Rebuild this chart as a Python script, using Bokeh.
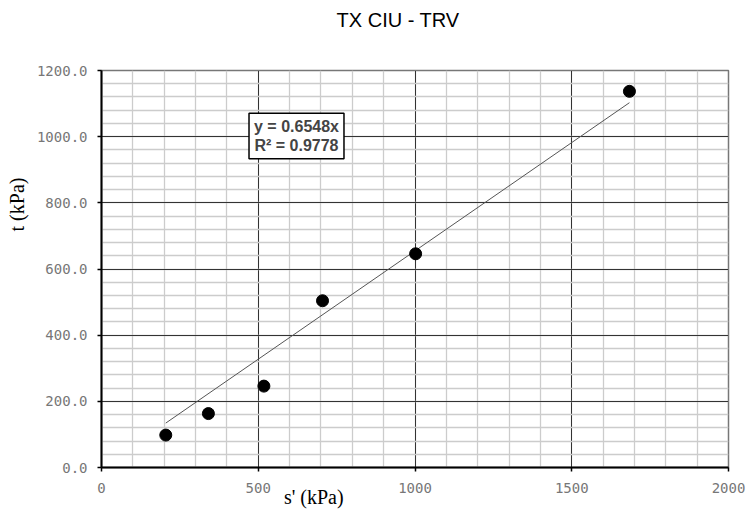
from bokeh.plotting import figure
from bokeh.models import (Range1d, SingleIntervalTicker, NumeralTickFormatter, Label,
                          LinearAxis, FixedTicker)
from bokeh.embed import file_html
from bokeh.resources import INLINE

# data
s_kpa = [205, 341, 518, 705, 1002, 1684]
t_kpa = [98, 163, 246, 504, 646, 1137]
slope = 0.6548
r2 = 0.9778
title_text = "TX CIU - TRV"
x_label = "s' (kPa)"
y_label = "t (kPa)"

p = figure(width=747, height=511, output_backend="svg", toolbar_location=None,
           x_range=Range1d(0, 2000), y_range=Range1d(0, 1200),
           min_border_left=101, min_border_right=19, min_border_top=70, min_border_bottom=44)
p.background_fill_color = "white"
p.border_fill_color = "white"
p.outline_line_color = "#777777"
p.outline_line_width = 1.5

p.xaxis.ticker = SingleIntervalTicker(interval=500, num_minor_ticks=5)
p.yaxis.ticker = SingleIntervalTicker(interval=200, num_minor_ticks=5)
p.yaxis.formatter = NumeralTickFormatter(format="0.0")

for ax in (p.xaxis, p.yaxis):
    ax.axis_line_color = "black"
    ax.axis_line_width = 2
    ax.major_tick_line_color = "black"
    ax.major_tick_line_width = 1.5
    ax.major_tick_out = 4
    ax.major_tick_in = 0
    ax.minor_tick_line_color = None
    ax.major_label_text_font = "DejaVu Sans Mono"
    ax.major_label_text_font_size = "14px"
    ax.major_label_text_color = "#777777"
p.xaxis.major_label_standoff = 11
p.yaxis.major_label_standoff = 10

for g in (p.xgrid, p.ygrid):
    g.grid_line_color = "#333333"
    g.grid_line_width = 1
    g.minor_grid_line_color = "#cccccc"
    g.minor_grid_line_width = 1.3

# chart title and axis titles placed via extra axes (label anchored at a data position)
title_axis = LinearAxis(ticker=FixedTicker(ticks=[946]), major_label_overrides={946: title_text},
                        axis_line_color=None, major_tick_line_color=None,
                        minor_tick_line_color=None, major_label_standoff=34,
                        major_label_text_font="Liberation Sans",
                        major_label_text_font_size="20px", major_label_text_color="black")
p.add_layout(title_axis, "above")
x_title_axis = LinearAxis(ticker=FixedTicker(ticks=[677]), major_label_overrides={677: x_label},
                          axis_line_color=None, major_tick_line_color=None,
                          minor_tick_line_color=None, major_label_standoff=-16,
                          major_label_text_font="Liberation Serif",
                          major_label_text_font_size="20px", major_label_text_color="black")
p.add_layout(x_title_axis, "below")
y_title_axis = LinearAxis(ticker=FixedTicker(ticks=[795]), major_label_overrides={795: y_label},
                          axis_line_color=None, major_tick_line_color=None,
                          minor_tick_line_color=None, major_label_standoff=-1,
                          major_label_orientation="vertical",
                          major_label_text_font="Liberation Serif",
                          major_label_text_font_size="20px", major_label_text_color="black")
p.add_layout(y_title_axis, "left")

# trendline through origin, drawn over data extent
xs_fit = [min(s_kpa), max(s_kpa)]
ys_fit = [slope * v for v in xs_fit]
p.line(xs_fit, ys_fit, line_color="#555555", line_width=1)

p.scatter(x=s_kpa, y=t_kpa, size=12, color="black")

p.add_layout(Label(x=622, y=1002, text=f"y = {slope}x\nR\u00b2 = {r2}",
                   text_font="Liberation Sans", text_font_style="bold", text_font_size="16px",
                   text_line_height=1.1,
                   text_align="center", text_baseline="middle",
                   background_fill_color="white", border_line_color="black", border_line_width=1.5,
                   padding=5))

open("out.html", "w").write(file_html(p, INLINE))
